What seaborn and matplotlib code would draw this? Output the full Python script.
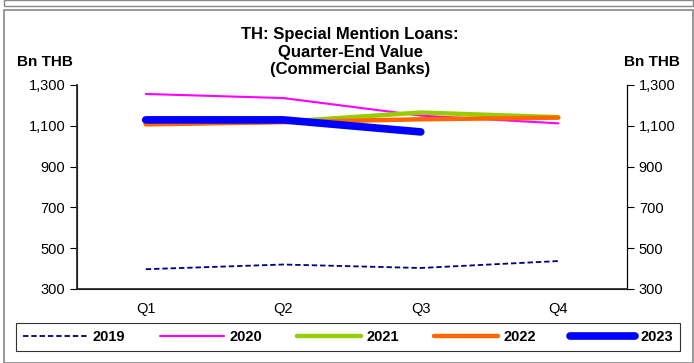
import matplotlib
matplotlib.use("Agg")
import matplotlib.pyplot as plt
import pandas as pd
import seaborn as sns
from matplotlib.patches import Rectangle
from matplotlib.ticker import FuncFormatter

quarters = ["Q1", "Q2", "Q3", "Q4"]
years = ["2019", "2020", "2021", "2022", "2023"]
v2019 = [397, 420, 403, 437]
v2020 = [1256, 1236, 1150, 1112]
v2021 = [1110, 1120, 1165, 1142]
v2022 = [1107, 1118, 1132, 1140]
v2023 = [1129, 1129, 1070]

series = {"2019": v2019, "2020": v2020, "2021": v2021, "2022": v2022, "2023": v2023}
rows = []
for yr, vals in series.items():
    for i, v in enumerate(vals):
        rows.append({"year": yr, "pos": i, "value": v})
df = pd.DataFrame(rows)

styles = {
    "2019": dict(color="#000080", lw=1.3, ls=(0, (3, 1.6))),
    "2020": dict(color="#FF00FF", lw=1.5, ls="-"),
    "2021": dict(color="#99CC00", lw=3.2, ls="-"),
    "2022": dict(color="#FF6600", lw=3.2, ls="-"),
    "2023": dict(color="#0000FF", lw=5.5, ls="-"),
}

sns.set_theme(style="white")
plt.rcParams["font.family"] = ["Liberation Sans", "DejaVu Sans"]
plt.rcParams["text.color"] = "black"
plt.rcParams["xtick.color"] = "black"
plt.rcParams["ytick.color"] = "black"

fig = plt.figure(figsize=(6.94, 3.63), dpi=100)
ax = fig.add_axes([77 / 694, 1 - 289 / 363, 550 / 694, 204 / 363])

for yr in years:
    st = styles[yr]
    sns.lineplot(data=df[df["year"] == yr], x="pos", y="value", ax=ax,
                 color=st["color"], linewidth=st["lw"], linestyle=st["ls"],
                 label=yr, solid_capstyle="round", legend=False)

ax.set_xlim(-0.5, 3.5)
ax.set_ylim(300, 1300)
ax.set_yticks(range(300, 1301, 200))
ax.yaxis.set_major_formatter(FuncFormatter(lambda v, p: f"{int(v):,}"))
ax.set_xticks([-0.5, 0.5, 1.5, 2.5, 3.5])
ax.set_xticklabels([])
ax.set_xticks(range(4), minor=True)
ax.set_xticklabels(quarters, minor=True)
ax.tick_params(axis="x", which="major", direction="out", length=5, width=0.8, color="black")
ax.tick_params(axis="x", which="minor", length=0, pad=9, labelsize=10.5)
ax.tick_params(axis="y", direction="out", length=5, width=0.8, color="black", labelsize=10.5)
ax.set_xlabel("")
ax.set_ylabel("")
for s in ["left", "bottom", "right"]:
    ax.spines[s].set_color("black")
    ax.spines[s].set_linewidth(0.8)
ax.spines["top"].set_visible(False)

ax2 = ax.twinx()
ax2.set_ylim(300, 1300)
ax2.set_yticks(range(300, 1301, 200))
ax2.yaxis.set_major_formatter(FuncFormatter(lambda v, p: f"{int(v):,}"))
ax2.tick_params(axis="y", direction="out", length=5, width=0.8, color="black", labelsize=10.5)
ax2.spines["top"].set_visible(False)
ax2.spines["right"].set_color("black")
ax2.spines["right"].set_linewidth(0.8)
ax2.grid(False)

fig.text(350 / 694, 1 - 52 / 363, "TH: Special Mention Loans:\nQuarter-End Value\n(Commercial Banks)",
         ha="center", va="center", fontsize=12, fontweight="bold", linespacing=1.2)
fig.text(45 / 694, 1 - 62 / 363, "Bn THB", ha="center", va="center", fontsize=11, fontweight="bold")
fig.text(652 / 694, 1 - 62 / 363, "Bn THB", ha="center", va="center", fontsize=11, fontweight="bold")

handles, labels = ax.get_legend_handles_labels()
leg = fig.legend(handles, labels, loc="center", bbox_to_anchor=(348 / 694, 1 - 337 / 363),
                 ncol=5, frameon=True, fancybox=False, handlelength=4.4, columnspacing=2.35,
                 handletextpad=0.4, borderpad=0.45, prop={"weight": "bold", "size": 10.5})
leg.get_frame().set_edgecolor("black")
leg.get_frame().set_linewidth(0.8)

fig.patches.append(Rectangle((4 / 694, 0), 689 / 694, 1 - 10 / 363, transform=fig.transFigure,
                             fill=False, edgecolor="#888888", linewidth=1.2))
fig.patches.append(Rectangle((4 / 694, 1 - 6 / 363), 689 / 694, 6 / 363, transform=fig.transFigure,
                             fill=False, edgecolor="#888888", linewidth=1.0))

fig.savefig("out.png", dpi=100)
